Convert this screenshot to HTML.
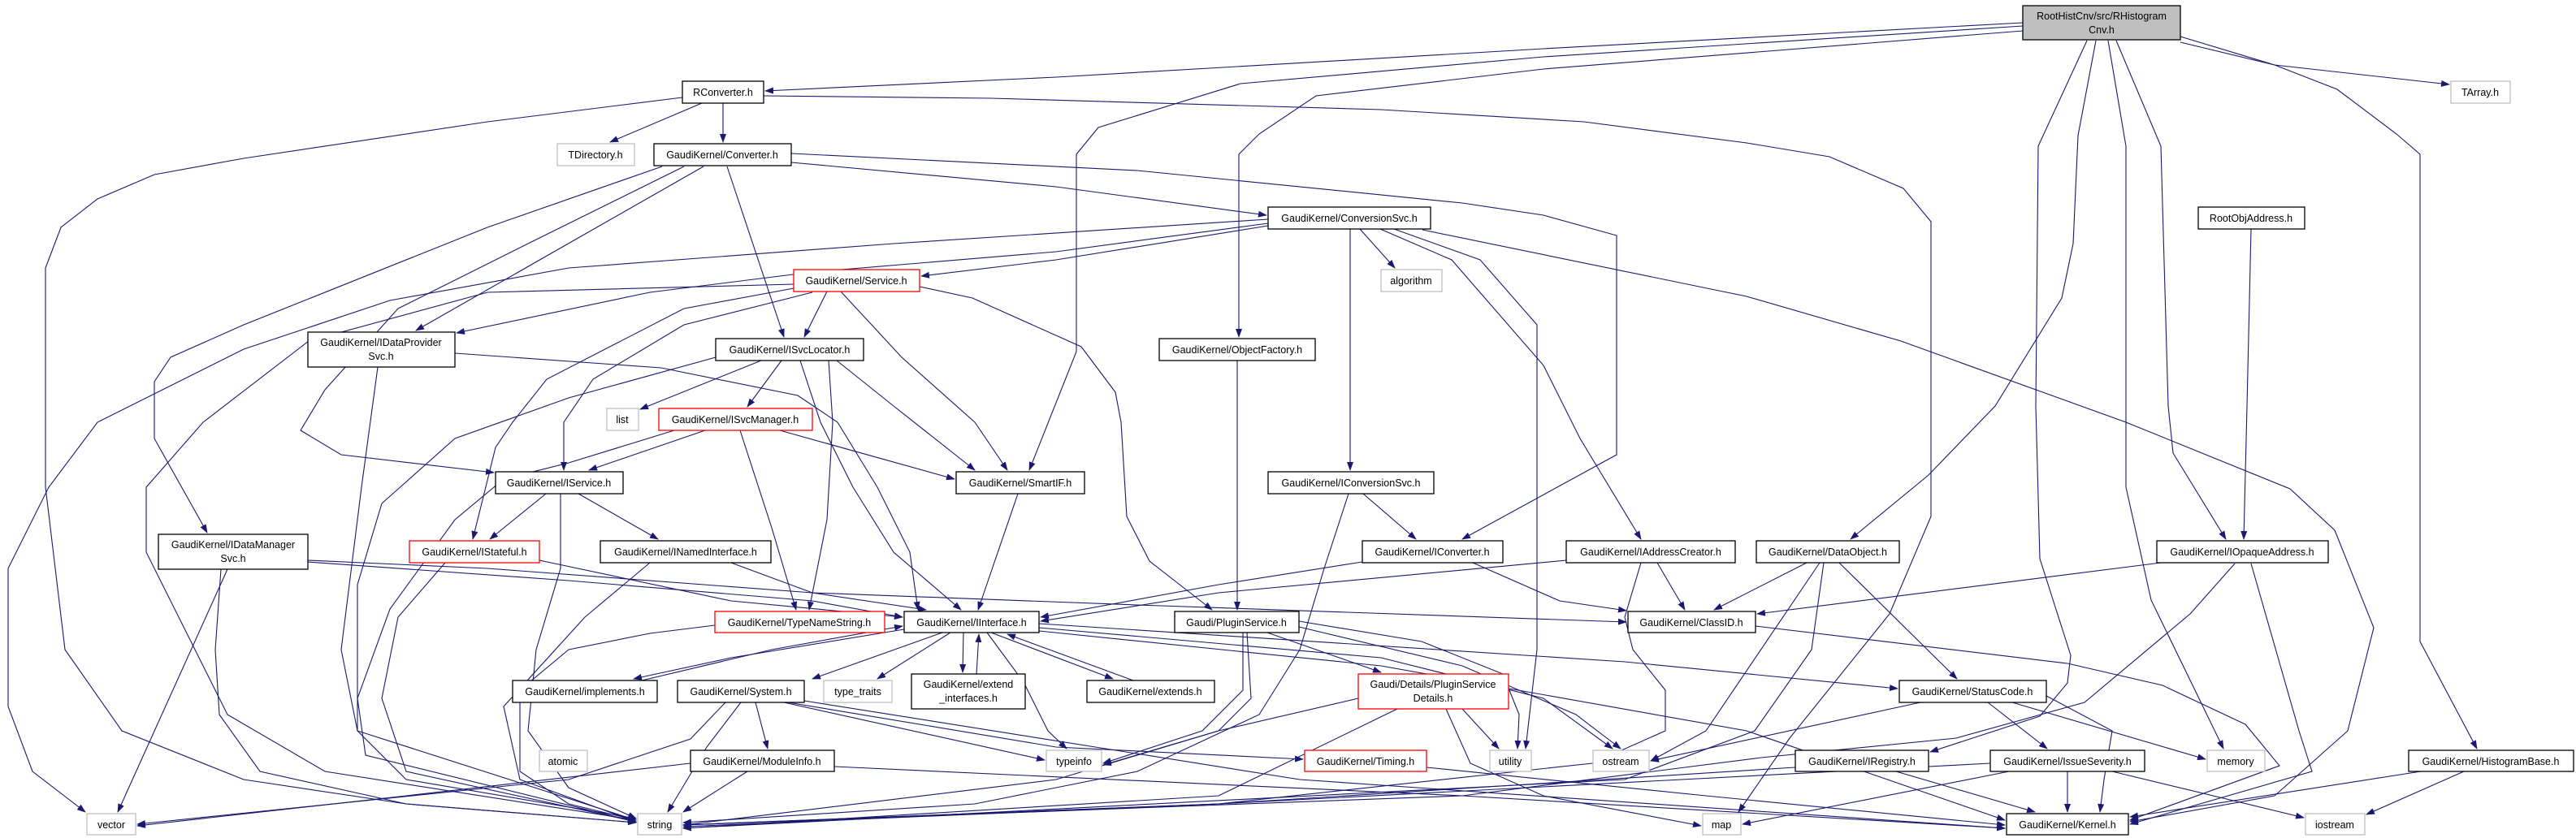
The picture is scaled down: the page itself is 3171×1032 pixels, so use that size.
<!DOCTYPE html>
<html><head><meta charset="utf-8"><style>
html,body{margin:0;padding:0;background:#fff;}
svg{display:block;}
text{font-family:"Liberation Sans",sans-serif;font-size:12.5px;fill:#000;}
.e{fill:none;stroke:#191970;stroke-width:1.1;marker-end:url(#a);}
.n{fill:#fff;stroke:#000;stroke-width:1.3;}
.g{fill:#fff;stroke:#bfbfbf;stroke-width:1.3;}
.r{fill:#fff;stroke:#ff0000;stroke-width:1.3;}
</style></head><body>
<svg width="3171" height="1032" viewBox="0 0 3171 1032" xmlns="http://www.w3.org/2000/svg">
<defs><marker id="a" markerWidth="11" markerHeight="8" refX="10" refY="4" orient="auto" markerUnits="userSpaceOnUse"><path d="M0,0 L11,4 L0,8 z" fill="#191970"/></marker></defs>
<g>
<path class="e" d="M2490,28 L1900,60 L1300,95 L942,112"/>
<path class="e" d="M940,118 L1220,121 L1700,135 L1950,150 L2150,176 L2252,193 L2343,232 L2377,273 L2377,636 L2326,756 L2203,909 L2140,1000"/>
<path class="e" d="M2490,32 L1900,70 L1527,103 L1352,157 L1325,190 L1325,433 L1267,579"/>
<path class="e" d="M2490,38 L1900,85 L1620,118 L1550,165 L1525,190 L1525,415"/>
<path class="e" d="M2580,50 L2558,167 L2552,300 L2538,367 L2456,500 L2374,585 L2278,664"/>
<path class="e" d="M2569,50 L2509,180 L2506,500 L2511,688 L2549,807 L2545,841 L2511,882 L2376,926"/>
<path class="e" d="M2595,50 L2617,180 L2617,600 L2648,739 L2737,922"/>
<path class="e" d="M2605,50 L2660,180 L2669,500 L2675,558 L2740,664"/>
<path class="e" d="M2771,282 L2766,500 L2762,664"/>
<path class="e" d="M2684,45 L2800,80 L3015,104"/>
<path class="e" d="M2684,52 L2800,80 L2877,110 L2950,165 L2979,190 L2979,790 L3049,922"/>
<path class="e" d="M864,127 L751,175"/>
<path class="e" d="M890,127 L890,175"/>
<path class="e" d="M840,120 L600,150 L300,195 L190,215 L120,245 L75,280 L56,330 L56,600 L80,800 L150,900 L300,960 L500,990 L783,1013"/>
<path class="e" d="M974,200 L1300,230 L1559,265"/>
<path class="e" d="M974,189 L1400,210 L1800,250 L1900,265 L1990,290 L1990,560 L1800,664"/>
<path class="e" d="M866,205 L512,407"/>
<path class="e" d="M895,205 L965,415"/>
<path class="e" d="M842,205 L650,300 L490,380 L400,480 L370,530 L420,560 L608,582"/>
<path class="e" d="M815,205 L600,280 L300,400 L210,440 L190,470 L190,540 L255,656"/>
<path class="e" d="M1561,278 L1300,320 L1134,340"/>
<path class="e" d="M1561,275 L1300,310 L1000,335 L800,360 L562,410"/>
<path class="e" d="M1561,270 L1100,300 L700,330 L480,370 L300,430 L120,520 L60,600 L10,700 L10,870 L40,950 L105,1000"/>
<path class="e" d="M1662,282 L1662,579"/>
<path class="e" d="M1674,282 L1717,330"/>
<path class="e" d="M1716,282 L1822,320 L1892,400 L1892,800 L1878,922"/>
<path class="e" d="M1699,282 L1787,320 L1900,450 L1945,540 L2020,664"/>
<path class="e" d="M1751,283 L2150,365 L2340,420 L2617,520 L2819,602 L2874,653 L2922,773 L2890,900 L2800,980 L2622,1012"/>
<path class="e" d="M1523,444 L1523,751"/>
<path class="e" d="M1018,359 L990,415"/>
<path class="e" d="M1000,360 L842,400 L730,467 L694,520 L694,579"/>
<path class="e" d="M977,355 L842,380 L673,467 L631,520 L610,551 L582,664"/>
<path class="e" d="M1035,359 L1110,440 L1200,520 L1240,579"/>
<path class="e" d="M1132,353 L1197,367 L1331,427 L1373,483 L1380,520 L1387,636 L1415,691 L1492,751"/>
<path class="e" d="M977,350 L600,360 L380,420 L250,520 L180,600 L180,680 L280,880 L400,950 L783,1010"/>
<path class="e" d="M937,444 L788,504"/>
<path class="e" d="M962,444 L920,501"/>
<path class="e" d="M1030,444 L1100,500 L1200,579"/>
<path class="e" d="M985,444 L1010,520 L1050,600 L1100,680 L1183,751"/>
<path class="e" d="M1020,444 L1025,520 L1018,640 L996,751"/>
<path class="e" d="M881,440 L700,490 L560,540 L470,620 L440,720 L440,900 L500,960 L783,1008"/>
<path class="e" d="M868,530 L725,579"/>
<path class="e" d="M960,530 L1175,590"/>
<path class="e" d="M911,530 L950,650 L980,751"/>
<path class="e" d="M830,530 L700,570 L620,590 L560,640 L480,750 L440,860 L450,930 L783,1012"/>
<path class="e" d="M672,608 L603,664"/>
<path class="e" d="M712,608 L810,664"/>
<path class="e" d="M690,608 L690,700 L660,800 L650,900 L700,970 L783,1008"/>
<path class="e" d="M664,690 L900,740 L1111,760"/>
<path class="e" d="M548,693 L490,760 L470,860 L500,950 L783,1012"/>
<path class="e" d="M900,693 L1000,730 L1140,751"/>
<path class="e" d="M800,693 L720,760 L620,870 L640,960 L783,1012"/>
<path class="e" d="M880,770 L800,780 L700,800 L640,850 L640,950 L700,990 L783,1010"/>
<path class="e" d="M560,435 L814,453 L982,487 L1031,520 L1080,600 L1120,680 L1130,751"/>
<path class="e" d="M465,452 L445,600 L420,800 L440,900 L783,1010"/>
<path class="e" d="M379,692 L700,715 L1000,740 L1111,760"/>
<path class="e" d="M379,690 L600,700 L1000,730 L1400,745 L2002,766"/>
<path class="e" d="M280,701 L145,1000"/>
<path class="e" d="M272,701 L265,800 L270,880 L320,950 L500,990 L783,1013"/>
<path class="e" d="M1253,608 L1204,751"/>
<path class="e" d="M1678,608 L1743,664"/>
<path class="e" d="M1660,608 L1630,700 L1600,800 L1550,880 L1400,950 L1200,990 L841,1013"/>
<path class="e" d="M1677,692 L1500,720 L1281,760"/>
<path class="e" d="M1813,693 L1920,740 L2002,752"/>
<path class="e" d="M1928,690 L1500,730 L1281,765"/>
<path class="e" d="M2040,693 L2074,751"/>
<path class="e" d="M2020,693 L2000,760 L2010,800 L2050,850 L2050,900 L1960,940 L1500,990 L841,1016"/>
<path class="e" d="M1160,779 L1000,836"/>
<path class="e" d="M1113,775 L900,810 L780,836"/>
<path class="e" d="M790,838 L950,800 L1111,771"/>
<path class="e" d="M1170,779 L1080,836"/>
<path class="e" d="M1186,779 L1185,828"/>
<path class="e" d="M1202,830 L1205,781"/>
<path class="e" d="M1220,779 L1370,836"/>
<path class="e" d="M1395,838 L1240,781"/>
<path class="e" d="M1215,779 L1260,840 L1290,900 L1313,922"/>
<path class="e" d="M1279,773 L1700,810 L1900,860 L1985,922"/>
<path class="e" d="M1279,777 L1700,820 L2150,900 L2468,1010"/>
<path class="e" d="M1279,768 L2000,815 L2336,848"/>
<path class="e" d="M965,865 L1286,936"/>
<path class="e" d="M970,865 L1300,920 L1604,935"/>
<path class="e" d="M930,865 L945,922"/>
<path class="e" d="M912,865 L870,920 L822,1000"/>
<path class="e" d="M893,865 L850,910 L700,960 L169,1015"/>
<path class="e" d="M990,863 L1600,960 L2468,1020"/>
<path class="e" d="M920,950 L841,1000"/>
<path class="e" d="M850,940 L500,980 L169,1017"/>
<path class="e" d="M1027,944 L1800,980 L2468,1020"/>
<path class="e" d="M1756,945 L2100,980 L2468,1016"/>
<path class="e" d="M1560,779 L1700,828"/>
<path class="e" d="M1530,779 L1530,850 L1480,900 L1358,940"/>
<path class="e" d="M1535,779 L1540,860 L1500,900 L1300,960 L841,1016"/>
<path class="e" d="M1599,765 L1750,790 L1850,830 L1870,880 L1868,922"/>
<path class="e" d="M1599,772 L1800,820 L1940,880 L1995,922"/>
<path class="e" d="M1672,860 L1500,900 L1358,942"/>
<path class="e" d="M1720,873 L1500,980 L841,1020"/>
<path class="e" d="M1800,873 L1845,922"/>
<path class="e" d="M1780,873 L1810,940 L1900,980 L2094,1017"/>
<path class="e" d="M2660,693 L2163,756"/>
<path class="e" d="M2751,694 L2696,756 L2566,865 L2408,909 L2168,933 L1800,980 L841,1016"/>
<path class="e" d="M2771,694 L2830,900 L2846,950 L2622,1015"/>
<path class="e" d="M2224,693 L2110,751"/>
<path class="e" d="M2264,693 L2409,836"/>
<path class="e" d="M2245,693 L2230,800 L2160,900 L2000,960 L841,1020"/>
<path class="e" d="M2240,693 L2100,900 L2032,937"/>
<path class="e" d="M2161,771 L2545,817 L2662,844 L2764,892 L2806,943 L2622,1010"/>
<path class="e" d="M2364,865 L2032,937"/>
<path class="e" d="M2447,865 L2520,922"/>
<path class="e" d="M2477,865 L2715,935"/>
<path class="e" d="M2519,857 L2600,900 L2590,960 L2585,1000"/>
<path class="e" d="M2545,950 L2545,1000"/>
<path class="e" d="M2473,950 L2145,1015"/>
<path class="e" d="M2600,950 L2836,1007"/>
<path class="e" d="M2450,940 L1500,990 L841,1018"/>
<path class="e" d="M2334,950 L2505,1000"/>
<path class="e" d="M2210,945 L1500,990 L841,1016"/>
<path class="e" d="M2980,950 L2622,1006"/>
<path class="e" d="M3033,950 L2913,1003"/>
</g>
<g>
<rect x="2490" y="7" width="194" height="42" fill="#bfbfbf" stroke="#000" stroke-width="1.3"/>
<text x="2587" y="24" text-anchor="middle">RootHistCnv/src/RHistogram</text><text x="2587" y="41" text-anchor="middle">Cnv.h</text>
<rect class="n" x="840" y="100" width="100" height="27"/><text x="890" y="118" text-anchor="middle">RConverter.h</text>
<rect class="g" x="686" y="177" width="95" height="27"/><text x="733" y="195" text-anchor="middle" fill="#000">TDirectory.h</text>
<rect class="n" x="805" y="177" width="169" height="27"/><text x="889" y="195" text-anchor="middle">GaudiKernel/Converter.h</text>
<rect class="n" x="1561" y="255" width="200" height="27"/><text x="1661" y="273" text-anchor="middle">GaudiKernel/ConversionSvc.h</text>
<rect class="n" x="2706" y="255" width="131" height="27"/><text x="2771" y="273" text-anchor="middle">RootObjAddress.h</text>
<rect class="g" x="3017" y="100" width="73" height="27"/><text x="3053" y="118" text-anchor="middle">TArray.h</text>
<rect class="r" x="977" y="332" width="155" height="27"/><text x="1054" y="350" text-anchor="middle">GaudiKernel/Service.h</text>
<rect class="g" x="1700" y="332" width="75" height="27"/><text x="1737" y="350" text-anchor="middle">algorithm</text>
<rect class="n" x="379" y="409" width="181" height="43"/><text x="469" y="426" text-anchor="middle">GaudiKernel/IDataProvider</text><text x="469" y="443" text-anchor="middle">Svc.h</text>
<rect class="n" x="881" y="417" width="182" height="27"/><text x="972" y="435" text-anchor="middle">GaudiKernel/ISvcLocator.h</text>
<rect class="n" x="1427" y="417" width="192" height="27"/><text x="1523" y="435" text-anchor="middle">GaudiKernel/ObjectFactory.h</text>
<rect class="g" x="747" y="503" width="39" height="27"/><text x="766" y="521" text-anchor="middle">list</text>
<rect class="r" x="811" y="503" width="189" height="27"/><text x="905" y="521" text-anchor="middle">GaudiKernel/ISvcManager.h</text>
<rect class="n" x="610" y="581" width="157" height="27"/><text x="688" y="599" text-anchor="middle">GaudiKernel/IService.h</text>
<rect class="n" x="1177" y="581" width="158" height="27"/><text x="1256" y="599" text-anchor="middle">GaudiKernel/SmartIF.h</text>
<rect class="n" x="1561" y="581" width="204" height="27"/><text x="1663" y="599" text-anchor="middle">GaudiKernel/IConversionSvc.h</text>
<rect class="n" x="195" y="658" width="184" height="43"/><text x="287" y="675" text-anchor="middle">GaudiKernel/IDataManager</text><text x="287" y="692" text-anchor="middle">Svc.h</text>
<rect class="r" x="504" y="666" width="160" height="27"/><text x="584" y="684" text-anchor="middle">GaudiKernel/IStateful.h</text>
<rect class="n" x="739" y="666" width="210" height="27"/><text x="844" y="684" text-anchor="middle">GaudiKernel/INamedInterface.h</text>
<rect class="n" x="1677" y="666" width="173" height="27"/><text x="1763" y="684" text-anchor="middle">GaudiKernel/IConverter.h</text>
<rect class="n" x="1928" y="666" width="208" height="27"/><text x="2032" y="684" text-anchor="middle">GaudiKernel/IAddressCreator.h</text>
<rect class="n" x="2162" y="666" width="176" height="27"/><text x="2250" y="684" text-anchor="middle">GaudiKernel/DataObject.h</text>
<rect class="n" x="2655" y="666" width="211" height="27"/><text x="2760" y="684" text-anchor="middle">GaudiKernel/IOpaqueAddress.h</text>
<rect class="r" x="880" y="753" width="209" height="26"/><text x="984" y="771" text-anchor="middle">GaudiKernel/TypeNameString.h</text>
<rect class="n" x="1113" y="753" width="166" height="26"/><text x="1196" y="771" text-anchor="middle">GaudiKernel/IInterface.h</text>
<rect class="n" x="1446" y="753" width="153" height="26"/><text x="1522" y="771" text-anchor="middle">Gaudi/PluginService.h</text>
<rect class="n" x="2004" y="753" width="157" height="26"/><text x="2082" y="771" text-anchor="middle">GaudiKernel/ClassID.h</text>
<rect class="n" x="631" y="838" width="178" height="27"/><text x="720" y="856" text-anchor="middle">GaudiKernel/implements.h</text>
<rect class="n" x="834" y="838" width="156" height="27"/><text x="912" y="856" text-anchor="middle">GaudiKernel/System.h</text>
<rect class="g" x="1014" y="838" width="84" height="27"/><text x="1056" y="856" text-anchor="middle">type_traits</text>
<rect class="n" x="1122" y="830" width="140" height="43"/><text x="1192" y="847" text-anchor="middle">GaudiKernel/extend</text><text x="1192" y="864" text-anchor="middle">_interfaces.h</text>
<rect class="n" x="1338" y="838" width="157" height="27"/><text x="1416" y="856" text-anchor="middle">GaudiKernel/extends.h</text>
<rect class="r" x="1672" y="830" width="185" height="43"/><text x="1764" y="847" text-anchor="middle">Gaudi/Details/PluginService</text><text x="1764" y="864" text-anchor="middle">Details.h</text>
<rect class="n" x="2338" y="838" width="181" height="27"/><text x="2428" y="856" text-anchor="middle">GaudiKernel/StatusCode.h</text>
<rect class="g" x="664" y="924" width="59" height="26"/><text x="693" y="942" text-anchor="middle">atomic</text>
<rect class="n" x="850" y="924" width="177" height="26"/><text x="938" y="942" text-anchor="middle">GaudiKernel/ModuleInfo.h</text>
<rect class="g" x="1288" y="924" width="68" height="26"/><text x="1322" y="942" text-anchor="middle">typeinfo</text>
<rect class="r" x="1606" y="924" width="150" height="26"/><text x="1681" y="942" text-anchor="middle">GaudiKernel/Timing.h</text>
<rect class="g" x="1834" y="924" width="51" height="26"/><text x="1859" y="942" text-anchor="middle">utility</text>
<rect class="g" x="1961" y="924" width="69" height="26"/><text x="1995" y="942" text-anchor="middle">ostream</text>
<rect class="n" x="2210" y="924" width="164" height="26"/><text x="2292" y="942" text-anchor="middle">GaudiKernel/IRegistry.h</text>
<rect class="n" x="2450" y="924" width="190" height="26"/><text x="2545" y="942" text-anchor="middle">GaudiKernel/IssueSeverity.h</text>
<rect class="g" x="2717" y="924" width="71" height="26"/><text x="2752" y="942" text-anchor="middle">memory</text>
<rect class="n" x="2965" y="924" width="203" height="26"/><text x="3066" y="942" text-anchor="middle">GaudiKernel/HistogramBase.h</text>
<rect class="g" x="107" y="1002" width="60" height="26"/><text x="137" y="1020" text-anchor="middle">vector</text>
<rect class="g" x="785" y="1002" width="54" height="26"/><text x="812" y="1020" text-anchor="middle">string</text>
<rect class="g" x="2096" y="1002" width="47" height="26"/><text x="2119" y="1020" text-anchor="middle">map</text>
<rect class="n" x="2470" y="1002" width="150" height="26"/><text x="2545" y="1020" text-anchor="middle">GaudiKernel/Kernel.h</text>
<rect class="g" x="2838" y="1002" width="73" height="26"/><text x="2874" y="1020" text-anchor="middle">iostream</text>
</g>
</svg>
</body></html>
